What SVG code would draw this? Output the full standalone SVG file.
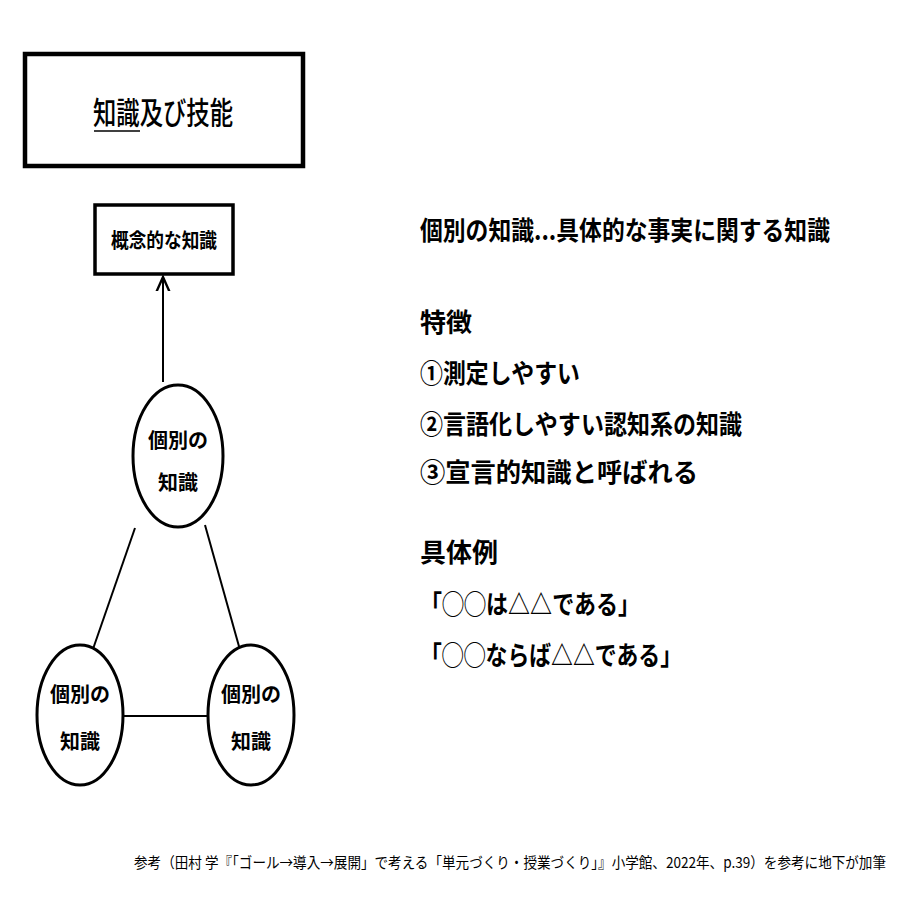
<svg xmlns="http://www.w3.org/2000/svg" width="910" height="910" viewBox="0 0 910 910">
<style>
text{font-family:"Noto Sans CJK JP","Noto Sans",sans-serif;fill:#000}
.b{font-weight:bold}
.n{fill:#fff;stroke:#000;stroke-width:3}
.c{fill:none;stroke:#000;stroke-width:2}
</style>
<defs><marker id="a" viewBox="0 0 10 10" refX="9" refY="5" markerWidth="8" markerHeight="8" orient="auto"><path d="M0,1L9,5L0,9" fill="none" stroke="#000" stroke-width="1.5"/></marker></defs>
<rect width="910" height="910" fill="#fff"/>
<g id="connectors">
<line class="c" x1="163" y1="382" x2="163" y2="277" marker-end="url(#a)"/>
<line class="c" x1="135" y1="528" x2="93" y2="649"/>
<line class="c" x1="205" y1="525" x2="240" y2="650"/>
<line class="c" x1="122" y1="716" x2="208" y2="716"/>
</g>
<g id="title"><rect x="25" y="54" width="278" height="112" fill="#fff" stroke="#000" stroke-width="4.5"/>
<text x="163" y="124" font-size="31" font-weight="500" text-anchor="middle" textLength="140" lengthAdjust="spacingAndGlyphs">知識及び技能</text>
<line x1="94" y1="131" x2="140" y2="131" stroke="#000" stroke-width="1.5"/></g>
<g id="concept"><rect x="95" y="205" width="138" height="69" fill="#fff" stroke="#000" stroke-width="3.5"/>
<text x="164" y="248" font-size="20" text-anchor="middle" class="b" textLength="106" lengthAdjust="spacingAndGlyphs">概念的な知識</text></g>
<g id="k1"><ellipse class="n" cx="178" cy="456" rx="45" ry="71"/>
<text x="178" y="448" font-size="20" text-anchor="middle" class="b">個別の</text><text x="178" y="490" font-size="20" text-anchor="middle" class="b">知識</text></g>
<g id="k2"><ellipse class="n" cx="80" cy="715" rx="43" ry="70"/>
<text x="80" y="702" font-size="20" text-anchor="middle" class="b">個別の</text><text x="80" y="749" font-size="20" text-anchor="middle" class="b">知識</text></g>
<g id="k3"><ellipse class="n" cx="251" cy="715" rx="43" ry="70"/>
<text x="251" y="702" font-size="20" text-anchor="middle" class="b">個別の</text><text x="251" y="749" font-size="20" text-anchor="middle" class="b">知識</text></g>
<g class="b" font-size="26">
<text x="420" y="240" textLength="410" lengthAdjust="spacingAndGlyphs">個別の知識...具体的な事実に関する知識</text>
<text x="420" y="332">特徴</text>
<text x="420" y="383" textLength="160" lengthAdjust="spacingAndGlyphs">①測定しやすい</text>
<text x="420" y="434" textLength="322" lengthAdjust="spacingAndGlyphs">②言語化しやすい認知系の知識</text>
<text x="420" y="482" textLength="278" lengthAdjust="spacingAndGlyphs">③宣言的知識と呼ばれる</text>
<text x="420" y="562">具体例</text>
<text x="420" y="614" textLength="220" lengthAdjust="spacingAndGlyphs">「◯◯は△△である」</text>
<text x="420" y="665" textLength="262" lengthAdjust="spacingAndGlyphs">「◯◯ならば△△である」</text>
</g>
<text x="134" y="868" font-size="15" textLength="752" lengthAdjust="spacingAndGlyphs">参考（田村 学『「ゴール→導入→展開」で考える「単元づくり・授業づくり」』小学館、2022年、p.39）を参考に地下が加筆</text>
</svg>
